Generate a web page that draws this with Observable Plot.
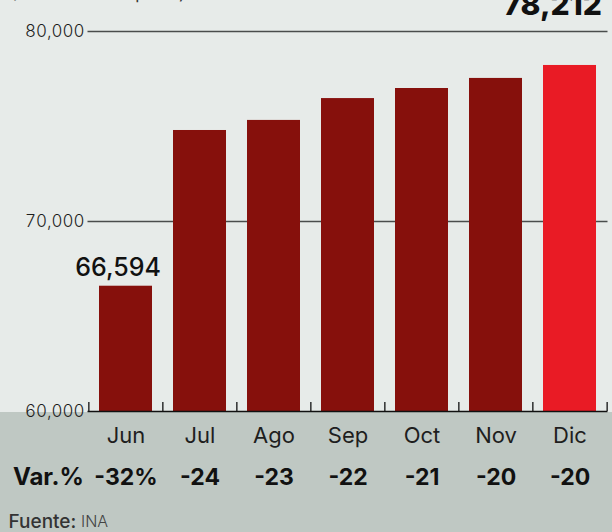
<!DOCTYPE html>
<html>
<head>
<meta charset="utf-8">
<script src="https://cdn.jsdelivr.net/npm/d3@7"></script>
<script src="https://cdn.jsdelivr.net/npm/@observablehq/plot@0.6"></script>
<style>
  html, body { margin: 0; padding: 0; }
  body { width: 612px; height: 532px; overflow: hidden;
         background: linear-gradient(#e7ebe9 0, #e7ebe9 412px, #bfc8c3 412px, #bfc8c3 532px); }
  #chart svg { display: block; background: transparent; }
</style>
</head>
<body>
<div id="chart"></div>
<script>
const months = ["Jun", "Jul", "Ago", "Sep", "Oct", "Nov", "Dic"];
const values = [66594, 74790, 75320, 76470, 77000, 77530, 78212];
const variation = ["-32%", "-24", "-23", "-22", "-21", "-20", "-20"];
const yTicks = [60000, 70000, 80000];
const subtitle = "(Número de empleos)";
const source = "INA";

const data = months.map((m, i) => ({ month: m, value: values[i], v: variation[i], last: i === months.length - 1 }));
const font = "Inter, 'Noto Sans', sans-serif";
const fmt = d3.format(",");
const half = 520 / 7 / 2;

const chart = Plot.plot({
  width: 612,
  height: 532,
  marginTop: 31,
  marginBottom: 121,
  marginLeft: 87.5,
  marginRight: 4.5,
  style: { background: "transparent", fontFamily: font, color: "#1a1a1a", overflow: "visible" },
  x: { domain: months, paddingInner: 0.28, paddingOuter: 0.14, axis: null },
  y: { domain: [60000, 80000], axis: null },
  color: { domain: [false, true], range: ["#86100c", "#e91b25"] },
  marks: [
    Plot.ruleY(yTicks.slice(1), { stroke: "#4a4d4c", strokeWidth: 1.4 }),
    Plot.barY(data, { x: "month", y1: 60000, y2: "value", fill: "last" }),
    Plot.ruleY([60000], { stroke: "#111", strokeWidth: 1.6 }),
    Plot.ruleX(months, { x: d => d, dx: -half, insetTop: 371, stroke: "#111", strokeWidth: 1.3 }),
    Plot.ruleX(months.slice(-1), { x: d => d, dx: half, insetTop: 371, stroke: "#111", strokeWidth: 1.3 }),
    Plot.axisY({ ticks: yTicks, tickSize: 0, tickPadding: 3.5, tickFormat: fmt, fontSize: 17, fontWeight: 300, fill: "#1e1e1e", label: null }),
    Plot.axisX({ tickSize: 0, tickPadding: 16, fontSize: 22, fontWeight: 400, fill: "#1e1e1e", label: null }),
    // value callouts
    Plot.text(data.slice(0, 1), { x: "month", y: "value", text: d => fmt(d.value), dy: -18, dx: -8, lineAnchor: "middle", fontSize: 25, fontWeight: 500, fill: "#111" }),
    Plot.text(data.slice(-1), { x: "month", y: "value", text: d => fmt(d.value), dy: -50, dx: 32, textAnchor: "end", lineAnchor: "bottom", fontSize: 30, fontWeight: 800, fill: "#111" }),
    // Var.% row
    Plot.text(["Var.%"], { frameAnchor: "bottom-left", textAnchor: "end", dx: -4, dy: 66, lineAnchor: "middle", fontSize: 24, fontWeight: 700, fill: "#111" }),
    Plot.text(data, { x: "month", text: "v", frameAnchor: "bottom", dy: 66, lineAnchor: "middle", fontSize: 23, fontWeight: 700, fill: "#111" }),
    // source
    Plot.text(["Fuente:"], { frameAnchor: "bottom-left", textAnchor: "start", dx: -79.5, dy: 110, lineAnchor: "middle", fontSize: 19, fontWeight: 500, fill: "#333" }),
    Plot.text([source], { frameAnchor: "bottom-left", textAnchor: "start", dx: -7, dy: 110, lineAnchor: "middle", fontSize: 16, fontWeight: 300, fill: "#444" }),
    // clipped subtitle at the very top
    Plot.text([subtitle], { frameAnchor: "top-left", textAnchor: "start", dx: -77.5, dy: -33, lineAnchor: "bottom", fontSize: 17, fontWeight: 400, fill: "#333" })
  ]
});
document.getElementById("chart").appendChild(chart);
</script>
</body>
</html>
